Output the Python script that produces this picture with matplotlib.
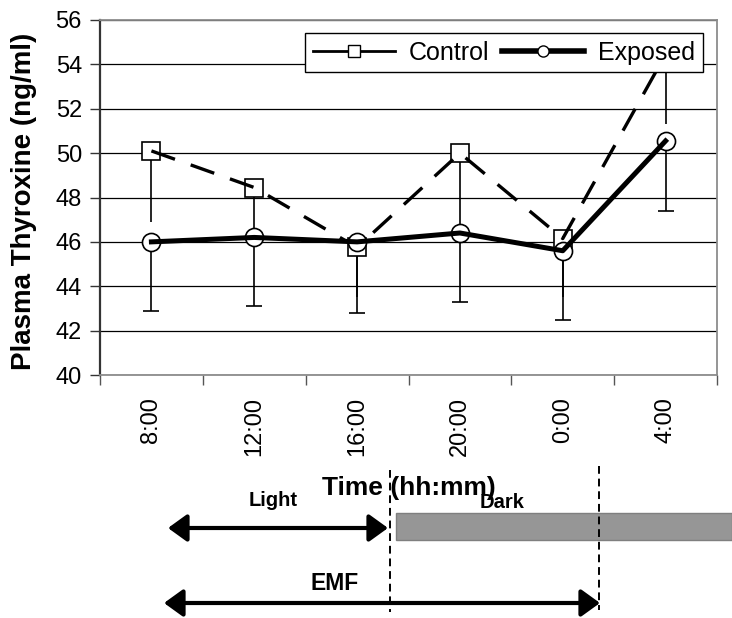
import matplotlib
matplotlib.use("Agg")
import matplotlib.pyplot as plt
from matplotlib.lines import Line2D
from matplotlib.patches import Rectangle, FancyArrowPatch

plt.rcParams['font.family'] = ['Liberation Sans', 'DejaVu Sans']

# data
times = ['8:00', '12:00', '16:00', '20:00', '0:00', '4:00']
control = [50.1, 48.45, 45.75, 50.0, 46.15, 54.45]
control_low = [46.9, 46.3, 43.5, 46.5, 43.5, 51.3]
exposed = [46.0, 46.2, 46.0, 46.4, 45.6, 50.55]
exposed_low = [42.9, 43.1, 42.8, 43.3, 42.5, 47.4]

W, H = 732, 618
fig = plt.figure(figsize=(W / 100, H / 100), dpi=100)
ax = fig.add_axes([100 / W, 1 - 375 / H, 617 / W, 355 / H])

x = [i + 0.5 for i in range(len(times))]

# error bars (minus side only)
c_err = [[c - lo for c, lo in zip(control, control_low)], [0] * len(control)]
e_err = [[e - lo for e, lo in zip(exposed, exposed_low)], [0] * len(exposed)]
ax.errorbar(x, control, yerr=c_err, fmt='none', ecolor='black',
            elinewidth=1.2, capsize=0, zorder=2.0)
ax.errorbar(x, exposed, yerr=e_err, fmt='none', ecolor='black',
            elinewidth=1.2, capsize=5.8, capthick=1.2, zorder=2.0)

# markers under the lines, like the original
ax.plot(x, control, ls='none', marker='s', ms=13, mfc='white', mec='black',
        mew=1.2, zorder=2.1)
ax.plot(x, control, color='black', lw=2.4, dashes=(7.5, 5), zorder=2.2)
ax.plot(x, exposed, ls='none', marker='o', ms=13, mfc='white', mec='black',
        mew=1.2, zorder=2.3)
ax.plot(x, exposed, color='black', lw=3.6, solid_joinstyle='round',
        zorder=2.4)

ax.set_xlim(0, len(times))
ax.set_ylim(40, 56)
ax.set_yticks(range(40, 57, 2))
ax.tick_params(axis='y', labelsize=17, length=7, width=1, direction='out',
               pad=6, color='#333333')

ax.set_xticks(range(len(times) + 1))
ax.set_xticklabels([])
ax.set_xticks(x, minor=True)
ax.set_xticklabels(times, minor=True, rotation=90, fontsize=17)
ax.tick_params(axis='x', which='major', length=7, width=1, color='#555555')
ax.tick_params(axis='x', which='minor', length=0, pad=16)

ax.set_axisbelow(True)
ax.yaxis.grid(True, color='black', lw=0.9)

for side in ['top', 'right', 'bottom']:
    ax.spines[side].set_color('#8c8c8c')
    ax.spines[side].set_linewidth(1.3)
ax.spines['left'].set_color('#333333')
ax.spines['left'].set_linewidth(1.6)

ax.set_ylabel('Plasma Thyroxine (ng/ml)', fontsize=20, fontweight='bold')
ax.yaxis.set_label_coords(-0.102, 0.49)
ax.set_xlabel('Time (hh:mm)', fontsize=19, fontweight='bold')
ax.xaxis.set_label_coords(0.5, -0.284)

handles = [
    Line2D([], [], color='black', lw=2, marker='s', ms=9, mfc='white',
           mec='black', mew=1),
    Line2D([], [], color='black', lw=4, marker='o', ms=8, mfc='white',
           mec='black', mew=1),
]
leg = ax.legend(handles, ['Control', 'Exposed'], ncol=2, loc='upper right',
                bbox_to_anchor=(0.9765, 0.963), borderaxespad=0,
                fontsize=18, handlelength=3.3, handletextpad=0.55,
                columnspacing=0.5, borderpad=0.3, fancybox=False,
                framealpha=1, edgecolor='black')
leg.get_frame().set_linewidth(1)
leg.set_zorder(5)


# annotations below the chart, placed in figure pixels
def fx(px):
    return px / W


def fy(py):
    return 1 - py / H


fig.add_artist(Rectangle((fx(396), fy(540)), fx(732) - fx(396), 27 / H,
                         transform=fig.transFigure, fc='#969696',
                         ec='#7f7f7f', lw=1))

for xa, ya, yb in [(390, 470, 612), (599, 466, 610)]:
    fig.add_artist(Line2D([fx(xa), fx(xa)], [fy(ya), fy(yb)],
                          transform=fig.transFigure, color='black', lw=1.4,
                          ls=(0, (4, 2.5))))

for xa, xb, ya in [(168, 388, 528), (164, 600, 603)]:
    fig.add_artist(FancyArrowPatch((fx(xa), fy(ya)), (fx(xb), fy(ya)),
                                   transform=fig.transFigure,
                                   arrowstyle='<|-|>,head_length=11.5,head_width=8.3',
                                   color='black', lw=3, shrinkA=0, shrinkB=0,
                                   mutation_scale=1))

fig.text(fx(273), fy(500), 'Light', ha='center', va='center',
         fontsize=14.5, fontweight='bold')
fig.text(fx(502), fy(502), 'Dark', ha='center', va='center',
         fontsize=14.5, fontweight='bold')
fig.text(fx(335), fy(583), 'EMF', ha='center', va='center',
         fontsize=16.5, fontweight='bold')

fig.savefig('out.png', dpi=100)
